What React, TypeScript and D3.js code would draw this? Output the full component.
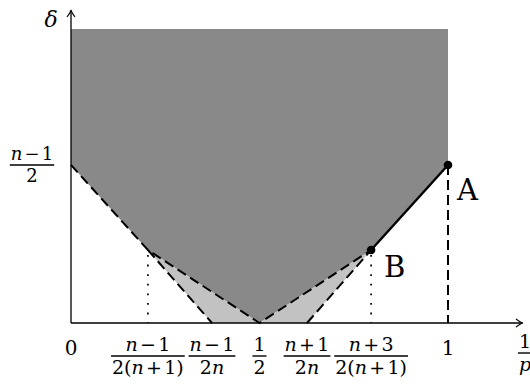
import React from 'react';
import * as d3 from 'd3';

// p positions of the marked points on the horizontal axis
const tickP = [0, 0.204, 0.374, 0.5, 0.626, 0.796, 1];
const tickNum = ['0', 'n−1', 'n−1', '1', 'n+1', 'n+3', '1'];
const tickDen = ['', '2(n+1)', '2n', '2', '2n', '2(n+1)', ''];

// boundary of the dark region (lower edge), delta in units of (n-1)/2
const edgeP = [0, 0.204, 0.5, 0.796, 1];
const edgeD = [1, 0.462, 0, 0.462, 1];
const topD = 1.86;

// light grey triangles
const leftTriP = [0.204, 0.374, 0.5];
const leftTriD = [0.462, 0, 0];
const rightTriP = [0.5, 0.626, 0.796];
const rightTriD = [0, 0, 0.462];

const W = 530, H = 385;
const FONT = '"DejaVu Serif", serif';
const OPSP = 0.12; // space around + and − (em)

const x = d3.scaleLinear().domain([0, 1]).range([71, 448]);
const y = d3.scaleLinear().domain([0, 1]).range([323, 165]);

type Run = { t: string; it: boolean; op: boolean };

function runs(s: string) {
  const out: Run[] = [];
  for (const ch of s) {
    const op = ch === '+' || ch === '−';
    const it = /[a-z]/.test(ch);
    const last = out[out.length - 1];
    if (!op && last && !last.op && last.it === it) last.t += ch;
    else out.push({ t: ch, it, op });
  }
  return out;
}

let ctx: CanvasRenderingContext2D | null = null;
function textWidth(s: string, size: number) {
  if (!ctx) ctx = document.createElement('canvas').getContext('2d');
  let w = 0;
  for (const r of runs(s)) {
    ctx!.font = `${r.it ? 'italic ' : ''}${size}px ${FONT}`;
    w += ctx!.measureText(r.t).width + (r.op ? 2 * OPSP * size : 0);
  }
  return w;
}

function MathText({ x, y, s, size }: { x: number; y: number; s: string; size: number }) {
  const rs = runs(s);
  return (
    <text x={x} y={y} textAnchor="middle" fontSize={size} fontFamily={FONT}>
      {rs.map((r, i) => {
        const prevOp = i > 0 && rs[i - 1].op;
        const dx = (r.op ? OPSP * size : 0) + (prevOp ? OPSP * size : 0);
        return (
          <tspan key={i} dx={dx || undefined} fontStyle={r.it ? 'italic' : 'normal'}>{r.t}</tspan>
        );
      })}
    </text>
  );
}

function Frac({ cx, bar, num, den, size }: { cx: number; bar: number; num: string; den: string; size: number }) {
  const w = Math.max(textWidth(num, size), textWidth(den, size)) + 2;
  return (
    <g>
      <MathText x={cx} y={bar - 5} s={num} size={size} />
      <line x1={cx - w / 2} x2={cx + w / 2} y1={bar} y2={bar} stroke="#000" strokeWidth={1.4} />
      <MathText x={cx} y={bar + 4 + size * 0.73} s={den} size={size} />
    </g>
  );
}

function Arrow({ x0, y0, angle }: { x0: number; y0: number; angle: number }) {
  return (
    <path
      d="M-7,-4 Q-2.5,-0.6 0,0 Q-2.5,0.6 -7,4"
      transform={`translate(${x0},${y0}) rotate(${angle})`}
      fill="none"
      stroke="#000"
      strokeWidth={1.1}
    />
  );
}

export default function App() {
  const path = (ps: number[], ds: number[]) =>
    d3.line<number>().x((p) => x(p)).y((_, i) => y(ds[i]))(ps)!;

  const darkP = [0, ...edgeP, 1];
  const darkD = [topD, ...edgeD, topD];
  const dash = '10,5';
  const dots = '1.8,7.8';

  return (
    <svg width={W} height={H} style={{ position: 'absolute', left: 0, top: 0, background: '#fff' }}>
      <path d={path(darkP, darkD) + 'Z'} fill="#898989" />
      <path d={path(leftTriP, leftTriD) + 'Z'} fill="#c2c2c2" />
      <path d={path(rightTriP, rightTriD) + 'Z'} fill="#c2c2c2" />

      {/* dashed lower envelopes */}
      <path d={path(edgeP.slice(0, 4), edgeD.slice(0, 4))} fill="none" stroke="#000" strokeWidth={2} strokeDasharray={dash} />
      <path d={path(leftTriP.slice(0, 2), leftTriD.slice(0, 2))} fill="none" stroke="#000" strokeWidth={2} strokeDasharray={dash} />
      <path d={path(rightTriP.slice(1), rightTriD.slice(1))} fill="none" stroke="#000" strokeWidth={2} strokeDasharray={dash} />

      {/* solid B–A */}
      <path d={path(edgeP.slice(3), edgeD.slice(3))} fill="none" stroke="#000" strokeWidth={2.4} />

      {/* verticals */}
      <line x1={x(1)} y1={y(edgeD[4])} x2={x(1)} y2={y(0)} stroke="#000" strokeWidth={2} strokeDasharray={dash} />
      <line x1={x(edgeP[1])} y1={y(edgeD[1]) + 5} x2={x(edgeP[1])} y2={y(0)} stroke="#000" strokeWidth={1.7} strokeDasharray={dots} />
      <line x1={x(edgeP[3])} y1={y(edgeD[3]) + 5} x2={x(edgeP[3])} y2={y(0)} stroke="#000" strokeWidth={1.7} strokeDasharray={dots} />

      {/* axes */}
      <line x1={x(0)} y1={y(0)} x2={522} y2={y(0)} stroke="#000" strokeWidth={1.3} />
      <Arrow x0={523} y0={y(0)} angle={0} />
      <line x1={x(0)} y1={y(0)} x2={x(0)} y2={11} stroke="#000" strokeWidth={1.3} />
      <Arrow x0={x(0)} y0={10} angle={-90} />

      <circle cx={x(edgeP[4])} cy={y(edgeD[4])} r={4.3} fill="#000" />
      <circle cx={x(edgeP[3])} cy={y(edgeD[3])} r={4.3} fill="#000" />

      {/* labels */}
      <text x={51} y={27} textAnchor="middle" fontSize={22} fontStyle="italic" fontFamily={FONT}>δ</text>
      <Frac cx={32} bar={165} num="n−1" den="2" size={18} />
      <text x={457} y={200} fontSize={29} fontFamily={FONT}>A</text>
      <text x={384} y={277} fontSize={29} fontFamily={FONT}>B</text>

      {tickP.map((p, i) =>
        tickDen[i] ? (
          <Frac key={i} cx={x(p)} bar={356} num={tickNum[i]} den={tickDen[i]} size={19} />
        ) : (
          <MathText key={i} x={x(p)} y={355} s={tickNum[i]} size={20} />
        )
      )}
      <Frac cx={525} bar={353} num="1" den="p" size={19} />
    </svg>
  );
}
